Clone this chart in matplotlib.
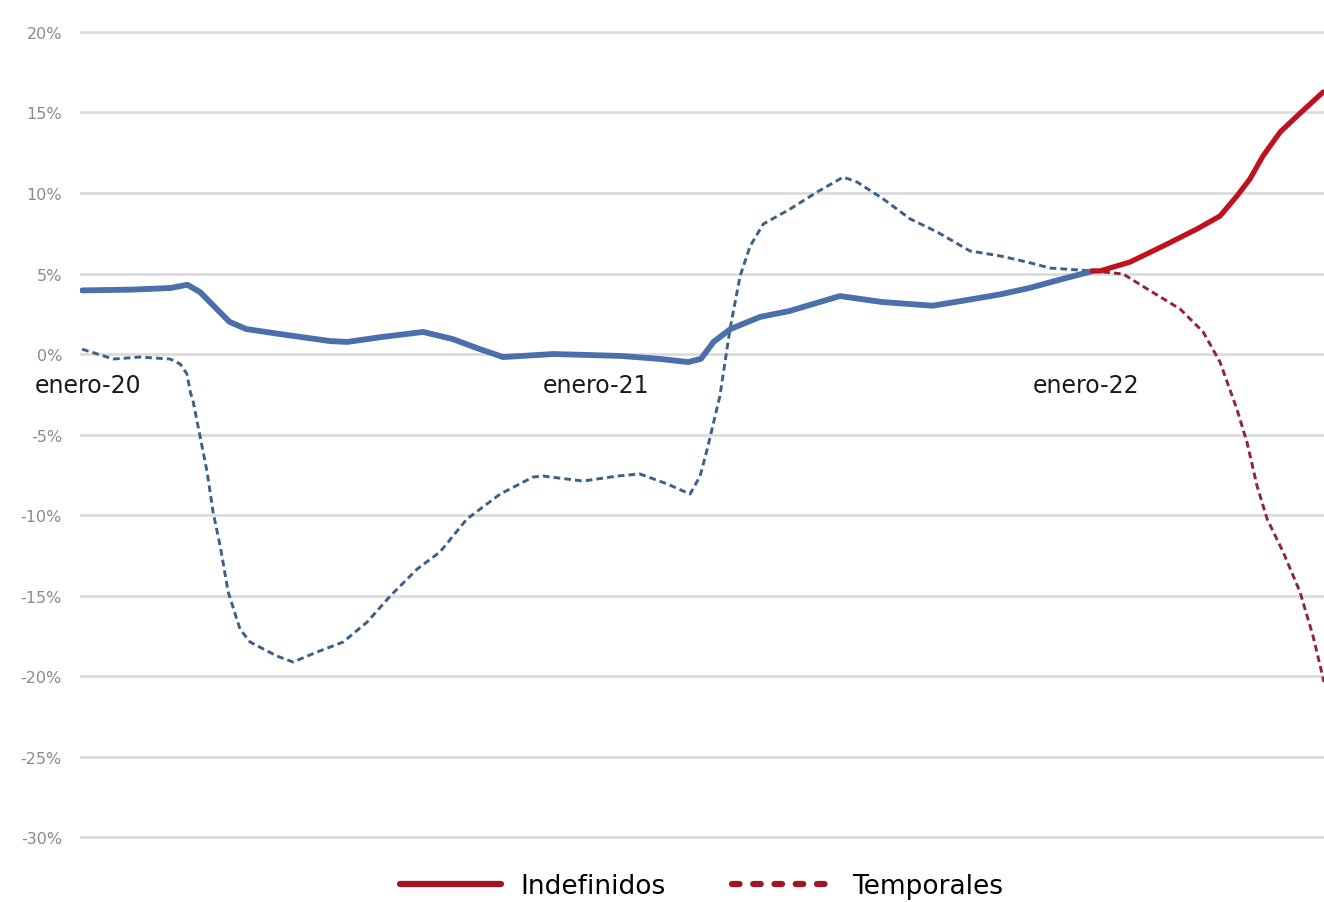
import matplotlib.pyplot as plt
from matplotlib.lines import Line2D
from matplotlib.ticker import FuncFormatter

# months counted from enero-20 (0) ; values in % year-on-year
indef_months_a = [0, 1.2, 2.1, 2.5, 2.8, 3.5, 3.9, 4.7, 5.9, 6.3, 7.1, 8.1, 8.5, 8.8,
                  9.45, 10.0, 11.2, 12.8, 13.7, 14.4, 14.7, 15.0, 15.4, 16.1, 16.8,
                  18.0, 19.0, 20.2, 20.9, 21.8, 22.5, 23.2, 24.0]
indef_values_a = [3.95, 4.0, 4.1, 4.3, 3.85, 2.0, 1.55, 1.24, 0.8, 0.75, 1.05, 1.37, 1.12,
                  0.93, 0.3, -0.19, 0.0, -0.12, -0.3, -0.5, -0.3, 0.75, 1.55, 2.3, 2.67,
                  3.6, 3.23, 3.0, 3.3, 3.7, 4.1, 4.6, 5.15]

temp_months_a = [0, 0.74, 1.38, 2.09, 2.33, 2.49, 2.57, 2.64, 2.8, 2.97, 3.11, 3.28,
                 3.47, 3.75, 3.99, 4.63, 5.01, 5.58, 6.2, 6.77, 7.32, 7.96, 8.5, 9.14,
                 9.93, 10.71, 10.95, 11.9, 12.71, 13.25, 13.9, 14.44, 14.68, 14.85,
                 15.15, 15.39, 15.63, 15.87, 16.18, 16.82, 17.46, 18.08, 18.41, 19.03,
                 19.67, 20.31, 21.09, 21.81, 22.45, 22.99, 24.0]
temp_values_a = [0.3, -0.31, -0.19, -0.31, -0.62, -1.24, -2.36, -2.98, -5.09, -7.33,
                 -9.81, -11.93, -14.78, -17.08, -17.89, -18.76, -19.13, -18.51, -17.89,
                 -16.65, -15.03, -13.35, -12.3, -10.25, -8.7, -7.64, -7.58, -7.89, -7.58,
                 -7.45, -8.07, -8.7, -7.58, -5.9, -2.61, 1.55, 4.84, 6.71, 8.07, 9.01,
                 10.06, 10.99, 10.68, 9.63, 8.39, 7.58, 6.4, 6.09, 5.71, 5.34, 5.16]

indef_months_b = [24.0, 24.18, 24.89, 25.68, 26.48, 27.03, 27.43, 27.74, 28.05, 28.46,
                  28.86, 29.48]
indef_values_b = [5.16, 5.16, 5.71, 6.71, 7.76, 8.57, 9.81, 10.87, 12.3, 13.79, 14.78,
                  16.27]

temp_months_b = [24.0, 24.73, 25.3, 26.08, 26.63, 27.03, 27.43, 27.67, 27.91, 28.15,
                 28.53, 28.93, 29.24, 29.5]
temp_values_b = [5.16, 4.97, 4.04, 2.8, 1.37, -0.5, -3.42, -5.47, -8.2, -10.25, -12.3,
                 -14.78, -17.52, -20.37]

year_labels = ["enero-20", "enero-21", "enero-22"]
label_months = [0.15, 12.2, 23.85]
yticks = [20, 15, 10, 5, 0, -5, -10, -15, -20, -25, -30]

blue = "#4a6fab"
blue_dash = "#3d5f88"
red = "#c0111f"
red_dash = "#8e2633"
legend_red = "#a31621"

fig = plt.figure(figsize=(13.24, 9.03), dpi=100)
ax = fig.add_axes([80 / 1324, 0.0541, 1 - 80 / 1324, 0.9272])

ax.plot(temp_months_a, temp_values_a, color=blue_dash, lw=2.1, dashes=(2.3, 1.4), zorder=3)
ax.plot(indef_months_a, indef_values_a, color=blue, lw=4.2, solid_capstyle="round", zorder=4)
ax.plot(temp_months_b, temp_values_b, color=red_dash, lw=2.1, dashes=(2.3, 1.4), zorder=3)
ax.plot(indef_months_b, indef_values_b, color=red, lw=3.8, solid_capstyle="round", zorder=4)

ax.set_xlim(-0.05, 29.5)
ax.set_ylim(-31, 21)
ax.set_yticks(yticks)
ax.yaxis.set_major_formatter(FuncFormatter(lambda v, p: f"{int(v)}%"))
ax.set_xticks([])
ax.tick_params(axis="y", length=0, pad=13, labelsize=11.5, labelcolor="#8a8a8a")
ax.grid(axis="y", color="#dcdcdc", lw=2)
ax.set_axisbelow(True)
for s in ax.spines.values():
    s.set_visible(False)

for m, lab in zip(label_months, year_labels):
    ax.text(m, -1.95, lab, ha="center", va="center", fontsize=17, color="#1a1a1a")

handles = [
    Line2D([], [], color=legend_red, lw=4.5, solid_capstyle="round"),
    Line2D([], [], color=legend_red, lw=4.5, dashes=(1.2, 2.2), dash_capstyle="round"),
]
fig.legend(handles, ["Indefinidos", "Temporales"], loc="center",
           bbox_to_anchor=(0.530, 0.018), ncol=2, frameon=False, fontsize=19,
           handlelength=3.8, handletextpad=0.76, columnspacing=2.5)

plt.savefig("out.png", dpi=100)
